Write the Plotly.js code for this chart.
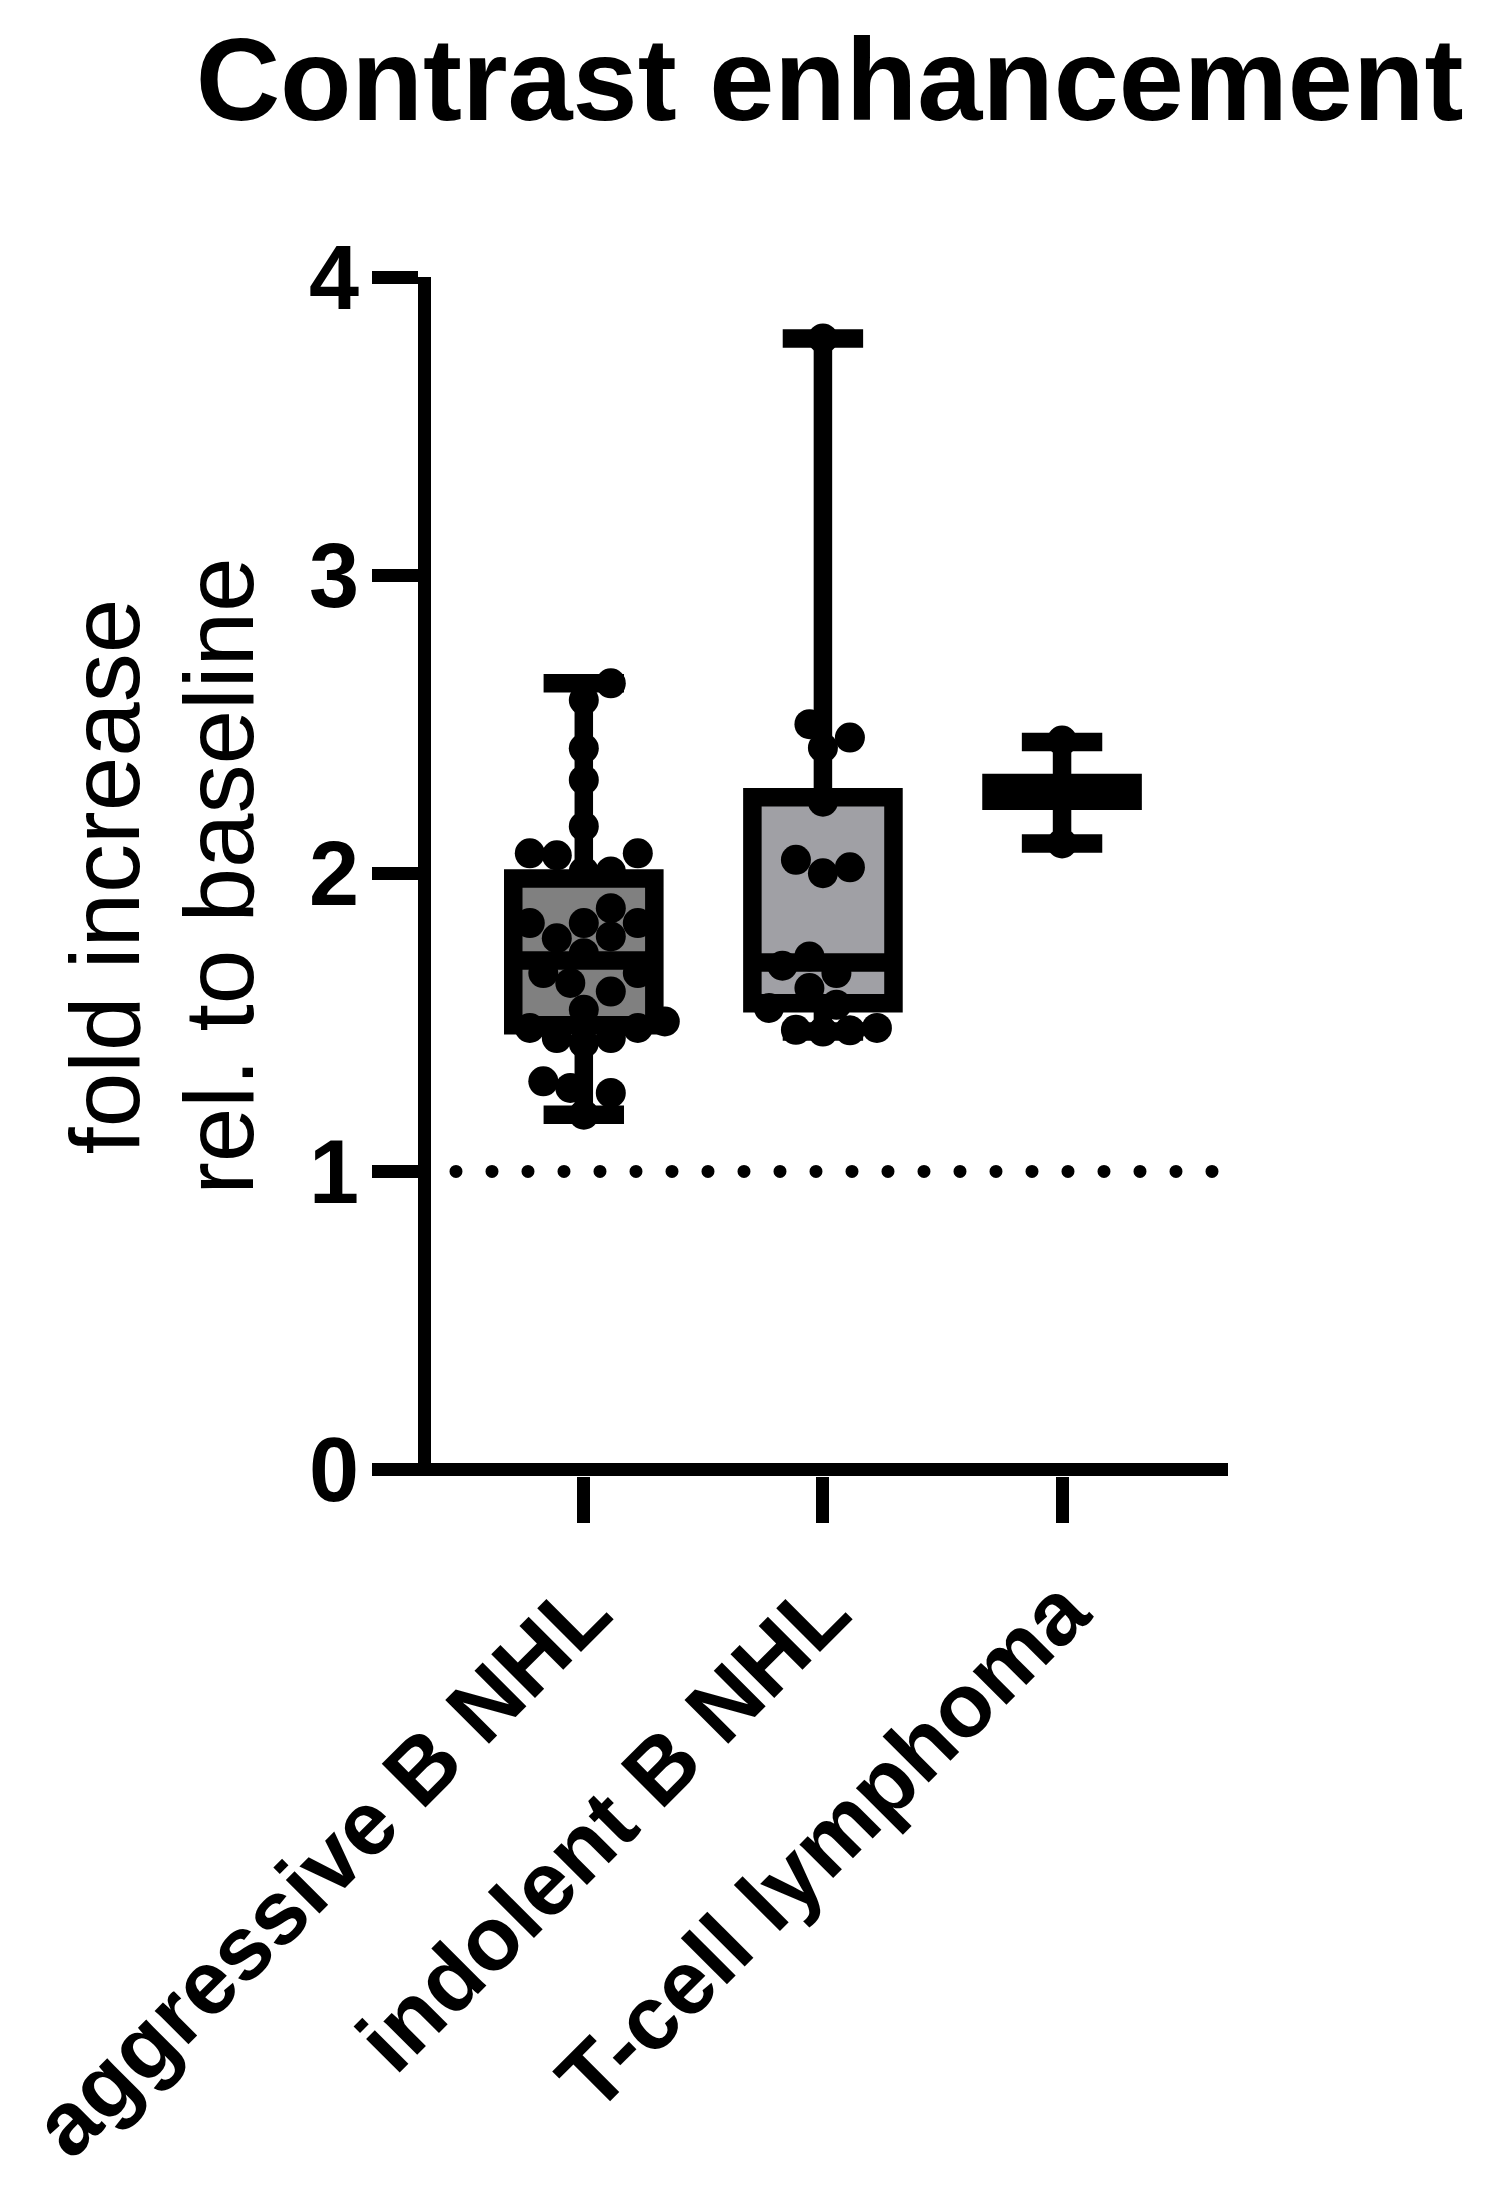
<!DOCTYPE html>
<html>
<head>
<meta charset="utf-8">
<script src="https://cdn.plot.ly/plotly-3.0.1.min.js"></script>
<style>
  html, body { margin: 0; padding: 0; background: #fff; }
  #chart { width: 1495px; height: 2188px; }
  /* round caps turn the zero-length dashes of the baseline into dots */
  .shapelayer path { stroke-linecap: round !important; }
</style>
</head>
<body>
<div id="chart"></div>
<script>
// ---- data ----
const categories = ['aggressive B NHL', 'indolent B NHL', 'T-cell lymphoma'];

const aggressiveVals = [2.637, 2.581, 2.419, 2.313, 2.157, 2.067, 2.067, 2.06, 2.006, 2.006,
  1.883, 1.833, 1.833, 1.833, 1.788, 1.782, 1.732, 1.665, 1.665, 1.632, 1.603, 1.542,
  1.503, 1.481, 1.481, 1.447, 1.447, 1.430, 1.302, 1.280, 1.263, 1.190];
const indolentVals = [3.794, 2.500, 2.455, 2.421, 2.240, 2.045, 2.020, 2.000, 1.721, 1.690,
  1.665, 1.615, 1.559, 1.548, 1.481, 1.475, 1.473, 1.469];
const tcellVals = [2.445, 2.100];

// box summaries (min, Q1, median, Q3, max) per category
const boxMin = [1.190, 1.469, 2.100];
const boxQ1 = [1.490, 1.564, 2.243];
const boxMedian = [1.707, 1.701, 2.270];
const boxQ3 = [1.982, 2.255, 2.303];
const boxMax = [2.637, 3.794, 2.440];

const yTickVals = [0, 1, 2, 3, 4];
const yTickText = ['0', '1', '2', '3', '4'];
const baselineValue = 1;

// ---- layout geometry ----
const W = 1495, H = 2188;
const margin = { l: 431, r: 267, t: 277, b: 711.5 };
const xRange = [-0.639, 2.694];
const yRange = [-0.0218, 4];
const plotW = W - margin.l - margin.r;
const plotH = H - margin.t - margin.b;
const pxPerX = plotW / (xRange[1] - xRange[0]);
const pxPerY = plotH / (yRange[1] - yRange[0]);

const FONT = 'Liberation Sans, Arial, Helvetica, sans-serif';
const markerSize = 30;

// simple beeswarm: horizontal offsets (in x units) so dots do not pile up
function swarm(vals, minDist, step) {
  const order = vals.map((v, i) => i).sort((a, b) => vals[a] - vals[b]);
  const placed = [];
  const out = new Array(vals.length);
  for (const i of order) {
    const y = vals[i] * pxPerY;
    let best = null;
    for (let k = 0; k < 40 && best === null; k++) {
      const cands = k === 0 ? [0] : (placed.length % 2 ? [k * step, -k * step] : [-k * step, k * step]);
      for (const c of cands) {
        if (placed.every(p => Math.hypot(p.x - c, p.y - y) >= minDist)) { best = c; break; }
      }
    }
    placed.push({ x: best, y: y });
    out[i] = best / pxPerX;
  }
  return out;
}

const groups = [aggressiveVals, indolentVals, tcellVals];
const fills = ['#808080', '#a0a0a5', '#808080'];

const traces = [];
groups.forEach((vals, i) => {
  traces.push({
    type: 'box',
    x: [i],
    q1: [boxQ1[i]], median: [boxMedian[i]], q3: [boxQ3[i]],
    lowerfence: [boxMin[i]], upperfence: [boxMax[i]],
    width: 0.59,
    whiskerwidth: 0.57,
    fillcolor: fills[i],
    line: { color: '#000', width: 18.5 },
    boxpoints: false,
    hoverinfo: 'skip',
    showlegend: false
  });
});
groups.forEach((vals, i) => {
  const offs = swarm(vals, 27, 13.5);
  traces.push({
    type: 'scatter',
    mode: 'markers',
    x: vals.map((v, j) => i + offs[j]),
    y: vals,
    marker: { color: '#000', size: markerSize, line: { width: 0 } },
    hoverinfo: 'skip',
    showlegend: false,
    cliponaxis: false
  });
});

const layout = {
  width: W, height: H,
  margin: margin,
  paper_bgcolor: '#fff', plot_bgcolor: '#fff',
  showlegend: false,
  title: {
    text: '<b>Contrast enhancement</b>',
    font: { family: FONT, size: 117, color: '#000' },
    x: 0.5, xref: 'paper', xanchor: 'center',
    y: 1 - 79.5 / H, yref: 'container', yanchor: 'middle'
  },
  xaxis: {
    range: xRange, fixedrange: true,
    showgrid: false, zeroline: false, showline: false,
    tickmode: 'array', tickvals: [0, 1, 2], ticktext: categories,
    ticks: 'outside', ticklen: 45.5, tickwidth: 13, tickcolor: '#000',
    tickangle: -45,
    tickfont: { family: FONT, size: 90, color: '#000', weight: 'bold' },
    automargin: false
  },
  yaxis: {
    range: yRange, fixedrange: true,
    showgrid: false,
    zeroline: true, zerolinecolor: '#000', zerolinewidth: 13,
    showline: true, linecolor: '#000', linewidth: 13,
    tickmode: 'array', tickvals: yTickVals, ticktext: yTickText,
    ticks: 'outside', ticklen: 46, tickwidth: 13, tickcolor: '#000',
    ticklabelstandoff: -5,
    tickfont: { family: FONT, size: 90, color: '#000', weight: 'bold' },
    automargin: false
  },
  shapes: [{
    type: 'line', xref: 'x', yref: 'y',
    x0: -0.5345, x1: 2.64, y0: baselineValue, y1: baselineValue,
    line: { color: '#000', width: 13, dash: '0px,36px' },
    layer: 'below'
  }],
  annotations: [
    {
      text: 'fold increase', textangle: -90,
      xref: 'paper', yref: 'paper',
      x: (104 - margin.l) / plotW, y: 0.5,
      xanchor: 'center', yanchor: 'middle', showarrow: false,
      font: { family: FONT, size: 98, color: '#000' }
    },
    {
      text: 'rel. to baseline', textangle: -90,
      xref: 'paper', yref: 'paper',
      x: (218.3 - margin.l) / plotW, y: 0.5,
      xanchor: 'center', yanchor: 'middle', showarrow: false,
      font: { family: FONT, size: 98, color: '#000' }
    }
  ]
};

Plotly.newPlot('chart', traces, layout, { staticPlot: true, displayModeBar: false });
</script>
</body>
</html>
